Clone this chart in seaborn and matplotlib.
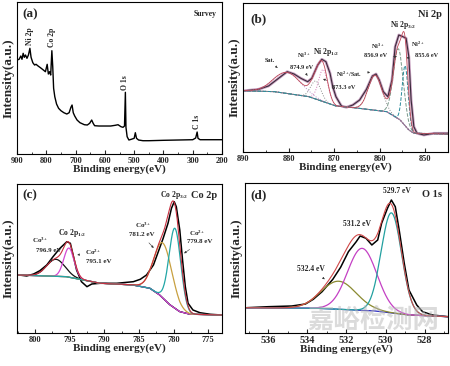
import numpy as np
import pandas as pd
import matplotlib
matplotlib.use("Agg")
import matplotlib.pyplot as plt
import seaborn as sns
from matplotlib.ticker import MultipleLocator

# ---------------- (a) survey spectrum ----------------
survey_ev = [900, 893, 887, 883, 879, 875, 871, 866, 861, 856, 852, 846, 840, 835, 828, 820,
             810, 803, 797, 793, 789, 785, 781, 778, 775, 771, 765, 758, 750, 740, 730, 722,
             716, 712, 708, 703, 695, 685, 670, 660, 652, 645, 640, 635, 620, 600, 580, 565,
             555, 545, 538, 533, 530, 528, 524, 518, 510, 500, 496, 492, 485, 470, 450, 400,
             350, 300, 290, 285, 282, 275, 250, 200]
survey_int = [94, 94.7, 98, 94.7, 100.7, 96.7, 99, 95.7, 99, 105.7, 96.7, 91.3, 89, 89.7, 88, 86.3,
              84, 82.3, 89.7, 80, 82.3, 79, 103.3, 87.3, 65.7, 57.3, 50, 45.7, 43.3, 41.3, 40, 41.3,
              46.7, 49, 41.3, 38, 34, 31.3, 29.3, 29, 30.7, 34, 30.7, 28.3, 28, 28, 28, 28.7,
              29.3, 27.3, 26.7, 28, 61.7, 26.7, 17.3, 14, 14.7, 15.7, 21.3, 15.7, 14, 13.3, 13.3, 13.7,
              14, 14.3, 16, 22, 15.7, 14.3, 14.3, 14.3]
survey_tags = ["Ni 2p", "Co 2p", "O 1s", "C 1s"]
survey_tag_ev = [855, 781, 530, 285]
survey_tag_int = [109, 107, 64, 25]

# ---------------- (b) Ni 2p ----------------
ni_ev = [889.6, 886.6, 884.4, 882.2, 880.3, 878.8, 877.3, 875.8, 874.9, 873.6, 872.7, 871.8,
         870.9, 870.3, 869.6, 868.4, 867.3, 865.9, 864.4, 862.9, 861.6, 860.8, 860.1, 859.2,
         858.2, 857.3, 856.6, 855.8, 854.9, 854.2, 853.6, 853.1, 852.5, 851.8, 850.3, 848.1, 845]
ni_int = [59.3, 60.7, 64, 71.7, 78.3, 76, 71.7, 68.3, 71.7, 85, 90.7, 88.3,
          76.7, 63.3, 53.3, 44, 42.7, 45, 50, 60.7, 74, 76, 70, 58.3,
          53.3, 70, 103.3, 115, 113.3, 111.7, 93.3, 50, 23.3, 16.7, 15, 16.7, 16.7]
ni_bg_ev = [890, 882.9, 875.5, 869.6, 864.4, 858.4, 855.5, 853.6, 852.5, 845]
ni_bg_int = [59.3, 58.3, 53.3, 44, 41.7, 38.3, 30, 20, 16.7, 16]
ni_centers = [880.3, 874.0, 872.4, 861.0, 855.9, 854.4]
ni_heights = [21, 18, 32, 35, 70, 60]
ni_sigmas = [2.97, 1.1, 1.02, 1.49, 1.1, 0.65]
ni_colors = ["#b48cc4", "#8c8c8c", "#d278b4", "#8c8c8c", "#7a9a8a", "#2a8c9c"]
ni_styles = [":", ":", ":", ":", "--", "--"]

# ---------------- (c) Co 2p ----------------
co_ev = [802.3, 801.2, 800.2, 799.3, 798.3, 797.4, 796.4, 795.4, 794.9, 794.5, 794.0, 793.3,
         792.5, 791.8, 790.6, 788.2, 785.8, 784.8, 783.9, 782.9, 782.2, 781.5, 780.8, 780.3,
         779.9, 779.6, 779.1, 778.7, 778.3, 777.9, 777.2, 776.2, 774.7, 773.1]
co_int = [58, 57, 59, 62.3, 68, 76.3, 84.7, 91.3, 89.7, 78, 63, 51.3,
          46.3, 49, 49.7, 49.7, 51.3, 53.7, 58, 68, 81.3, 94.7, 109.7, 124.7,
          131.3, 126.3, 103, 73, 46.3, 29.7, 23, 20.3, 18.7, 18]
co_bg_ev = [802.6, 795.4, 793.0, 790.6, 785.8, 783.4, 782.0, 780.5, 779.1, 777.6, 773]
co_bg_int = [58, 56.3, 53, 49.7, 48, 44.7, 38, 28, 21.3, 18.7, 18]
co_centers = [797.0, 795.1, 781.5, 779.8]
co_heights = [17, 29, 55, 80]
co_sigmas = [1.3, 0.75, 1.3, 0.85]
co_colors = ["#111111", "#d448d4", "#c8a040", "#22a6a6"]

# ---------------- (d) O 1s ----------------
o_ev = [537.1, 536.0, 534.8, 534.1, 533.7, 533.25, 532.7, 532.3, 531.9, 531.5, 531.3, 531.0,
        530.7, 530.4, 530.2, 529.9, 529.7, 529.5, 529.3, 529.04, 528.8, 528.4, 528.1, 527.6, 526.8]
o_int = [25.3, 26.3, 27, 29, 33.7, 41.3, 53.7, 65.7, 81.3, 91.3, 97, 94.7,
         88, 93, 109.7, 124.7, 133, 126.3, 103, 69.7, 43, 28, 21.3, 18, 16.3]
o_bg_ev = [537.2, 533.4, 530.5, 528.8, 526.8]
o_bg_int = [25.3, 24.7, 22, 18, 16.3]
o_centers = [532.4, 531.2, 529.7]
o_heights = [28, 62, 100]
o_sigmas = [0.9, 0.75, 0.52]
o_colors = ["#8a8a30", "#c440c4", "#22a0a0"]

sns.set_style("ticks")
plt.rcParams["font.family"] = ["Liberation Serif", "Noto Sans CJK SC"]
plt.rcParams["font.weight"] = "bold"
plt.rcParams["axes.labelweight"] = "bold"
plt.rcParams["mathtext.fontset"] = "custom"
plt.rcParams["mathtext.rm"] = "Liberation Serif:bold"
plt.rcParams["mathtext.it"] = "Liberation Serif:italic:bold"
plt.rcParams["mathtext.bf"] = "Liberation Serif:bold"
plt.rcParams["mathtext.default"] = "rm"


def fit_curves(ev_lo, ev_hi, bg_ev, bg_int, centers, heights, sigmas):
    grid = np.linspace(ev_lo, ev_hi, 600)
    order = np.argsort(bg_ev)
    bg = np.interp(grid, np.array(bg_ev)[order], np.array(bg_int)[order])
    comps = [bg + h * np.exp(-0.5 * ((grid - c) / s) ** 2)
             for c, h, s in zip(centers, heights, sigmas)]
    env = bg + sum(c - bg for c in comps)
    return grid, bg, comps, env


def style_axes(ax, xlim, ylim, major, minor, tsize):
    ax.set_xlim(*xlim)
    ax.set_ylim(*ylim)
    ax.set_yticks([])
    ax.xaxis.set_major_locator(MultipleLocator(major))
    ax.xaxis.set_minor_locator(MultipleLocator(minor))
    ax.tick_params(axis="x", which="major", direction="in", length=3, width=0.8,
                   labelsize=tsize, pad=2)
    ax.tick_params(axis="x", which="minor", direction="in", length=1.5, width=0.6)
    for lab in ax.get_xticklabels():
        lab.set_fontweight("bold")
    for sp in ax.spines.values():
        sp.set_visible(True)
        sp.set_linewidth(0.8)
        sp.set_color("black")
    ax.set_xlabel("Binding energy(eV)", fontsize=8, labelpad=0)
    ax.set_ylabel("Intensity(a.u.)", fontsize=9.5, labelpad=2)


fig = plt.figure(figsize=(4.5, 3.66), dpi=100)
ax_a = fig.add_axes([0.0378, 0.5792, 0.4556, 0.4153])
ax_b = fig.add_axes([0.54, 0.5847, 0.4556, 0.4071])
ax_c = fig.add_axes([0.0378, 0.0902, 0.4556, 0.4071])
ax_d = fig.add_axes([0.5444, 0.0902, 0.4511, 0.4098])

# (a)
sns.lineplot(x=survey_ev, y=survey_int, ax=ax_a, color="black", lw=1.0, sort=False, estimator=None)
style_axes(ax_a, (900, 200), (0, 152), 100, 50, 6)
ax_a.text(0.024, 0.92, "(a)", transform=ax_a.transAxes, fontsize=9.5, va="center", ha="left")
ax_a.text(0.976, 0.92, "Survey", transform=ax_a.transAxes, fontsize=5.5, va="center", ha="right")
for t, e, v in zip(survey_tags, survey_tag_ev, survey_tag_int):
    ax_a.text(e, v, t, rotation=90, fontsize=5.5, ha="center", va="bottom")

# (b)
g, bg, comps, env = fit_curves(845, 890, ni_bg_ev, ni_bg_int, ni_centers, ni_heights, ni_sigmas)
sns.lineplot(x=ni_ev, y=ni_int, ax=ax_b, color="#c8a0c0", lw=2.0, sort=False, estimator=None)
sns.lineplot(x=ni_ev, y=ni_int, ax=ax_b, color="#3a2a3a", lw=0.8, sort=False, estimator=None)
sns.lineplot(x=g, y=bg, ax=ax_b, color="#6a4a7a", lw=0.7, sort=False, estimator=None)
for cv, col, ls in zip(comps, ni_colors, ni_styles):
    ax_b.plot(g, cv, color=col, lw=0.7, ls=ls)
sns.lineplot(x=g, y=env, ax=ax_b, color="#c04858", lw=0.6, sort=False, estimator=None)
style_axes(ax_b, (890, 845), (-2, 147), 10, 5, 6)
ax_b.text(0.034, 0.89, "(b)", transform=ax_b.transAxes, fontsize=9.5, va="center", ha="left")
ax_b.text(0.97, 0.92, "Ni 2p", transform=ax_b.transAxes, fontsize=7.5, va="center", ha="right")
fs = 4.5
arr = dict(arrowstyle="-|>", lw=0.4, color="#333333", mutation_scale=3)
ax_b.text(854.9, 125.5, "Ni 2p$_{3/2}$", fontsize=5.5, ha="center", va="center")
ax_b.text(851.6, 105.5, "Ni$^{2+}$", fontsize=fs, ha="center", va="center")
ax_b.annotate("855.6 eV", xy=(854.1, 92), xytext=(849.7, 94.5), fontsize=fs,
              ha="center", va="center", arrowprops=arr)
ax_b.text(860.5, 104, "Ni$^{3+}$", fontsize=fs, ha="center", va="center")
ax_b.annotate("856.9 eV", xy=(855.6, 93), xytext=(860.9, 95), fontsize=fs,
              ha="center", va="center", arrowprops=arr)
ax_b.annotate("Ni$^{2+}$/Sat.", xy=(861.5, 78), xytext=(866.7, 76), fontsize=fs,
              ha="center", va="center", arrowprops=arr)
ax_b.text(871.7, 98, "Ni 2p$_{1/2}$", fontsize=5.5, ha="center", va="center")
ax_b.text(876.7, 95, "Ni$^{3+}$", fontsize=fs, ha="center", va="center")
ax_b.annotate("874.9 eV", xy=(875.5, 72), xytext=(877.2, 83), fontsize=fs,
              ha="center", va="center", arrowprops=arr)
ax_b.annotate("873.3 eV", xy=(873.0, 72), xytext=(867.8, 63), fontsize=fs,
              ha="center", va="center", arrowprops=arr)
ax_b.annotate("Sat.", xy=(882, 80), xytext=(884.2, 90), fontsize=fs,
              ha="center", va="center", arrowprops=arr)

# (c)
g, bg, comps, env = fit_curves(773, 802.6, co_bg_ev, co_bg_int, co_centers, co_heights, co_sigmas)
sns.lineplot(x=co_ev, y=co_int, ax=ax_c, color="black", lw=1.1, sort=False, estimator=None)
sns.lineplot(x=g, y=bg, ax=ax_c, color="#141450", lw=0.9, sort=False, estimator=None)
for cv, col in zip(comps, co_colors):
    ax_c.plot(g, cv, color=col, lw=0.9)
sns.lineplot(x=g, y=env, ax=ax_c, color="#c83040", lw=0.8, sort=False, estimator=None)
style_axes(ax_c, (802.6, 773), (0, 149), 5, 2.5, 6)
ax_c.text(0.024, 0.926, "(c)", transform=ax_c.transAxes, fontsize=9.5, va="center", ha="left")
ax_c.text(0.976, 0.926, "Co 2p", transform=ax_c.transAxes, fontsize=7.5, va="center", ha="right")
fs = 5
ax_c.text(779.9, 138, "Co 2p$_{3/2}$", fontsize=5.5, ha="center", va="center")
ax_c.text(784.4, 108, "Co$^{3+}$", fontsize=fs, ha="center", va="center")
ax_c.annotate("781.2 eV", xy=(782.6, 83), xytext=(784.6, 98), fontsize=fs,
              ha="center", va="center", arrowprops=arr)
ax_c.text(776.6, 100, "Co$^{2+}$", fontsize=fs, ha="center", va="center")
ax_c.annotate("779.8 eV", xy=(778.8, 78), xytext=(776.2, 91), fontsize=fs,
              ha="center", va="center", arrowprops=arr)
ax_c.text(799.3, 93, "Co$^{3+}$", fontsize=fs, ha="center", va="center")
ax_c.annotate("796.9 eV", xy=(797.6, 71), xytext=(798.0, 82), fontsize=fs,
              ha="center", va="center", arrowprops=arr)
ax_c.text(794.6, 100, "Co 2p$_{1/2}$", fontsize=5.5, ha="center", va="center")
ax_c.annotate("Co$^{2+}$", xy=(793.9, 78), xytext=(791.6, 81), fontsize=fs,
              ha="center", va="center", arrowprops=arr)
ax_c.text(790.8, 71, "795.1 eV", fontsize=fs, ha="center", va="center")

# (d)
g, bg, comps, env = fit_curves(526.8, 537.2, o_bg_ev, o_bg_int, o_centers, o_heights, o_sigmas)
sns.lineplot(x=o_ev, y=o_int, ax=ax_d, color="black", lw=1.1, sort=False, estimator=None)
sns.lineplot(x=g, y=bg, ax=ax_d, color="#2a2ac0", lw=0.9, sort=False, estimator=None)
for cv, col in zip(comps, o_colors):
    ax_d.plot(g, cv, color=col, lw=0.9)
sns.lineplot(x=g, y=env, ax=ax_d, color="#d04848", lw=0.8, sort=False, estimator=None)
style_axes(ax_d, (537.2, 526.8), (0, 150), 2, 1, 7.5)
ax_d.text(0.025, 0.92, "(d)", transform=ax_d.transAxes, fontsize=9.5, va="center", ha="left")
ax_d.text(0.97, 0.92, "O 1s", transform=ax_d.transAxes, fontsize=7.5, va="center", ha="right")
ax_d.text(529.4, 142, "529.7 eV", fontsize=5.5, ha="center", va="center")
ax_d.text(531.45, 109, "531.2 eV", fontsize=5.5, ha="center", va="center")
ax_d.annotate("532.4 eV", xy=(533.0, 52), xytext=(533.8, 64), fontsize=5.5,
              ha="center", va="center", arrowprops=arr)

# watermark
fig.text(0.83, 0.125, "嘉峪检测网", fontsize=19, color="#b8b8b8", alpha=0.5,
         ha="center", va="center", family=["Noto Sans CJK SC"], zorder=10)

fig.savefig("out.png", dpi=100)
